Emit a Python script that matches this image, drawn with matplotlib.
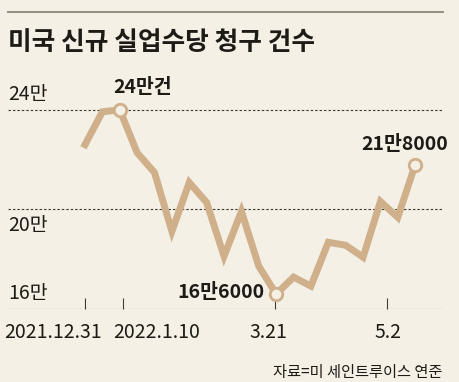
import numpy as np
import matplotlib
matplotlib.use('Agg')
import matplotlib.pyplot as plt
from matplotlib.transforms import blended_transform_factory

# 데이터 (주간 신규 실업수당 청구 건수)
claims = [226000, 239200, 240000, 222800, 214800, 191200, 210800, 202800,
          181200, 199200, 177200, 166000, 172800, 169200, 186800, 185600,
          180800, 203200, 196800, 218000]
weeks = np.arange(len(claims))

tick_pos = [0, 2.2, 10.95, 17.4]
tick_labels = ['2021.12.31', '2022.1.10', '3.21', '5.2']
label_pos = [-1.85, 4.15, 10.55, 17.45]

y_ticks = [160000, 200000, 240000]
y_labels = ['16만', '20만', '24만']

marked = {2: '24만건', 11: '16만6000', 19: '21만8000'}

BG = '#f4f0e6'
LINE = '#cfb08a'
INK = '#1e1a16'
GRID = '#3e3a35'
plt.rcParams['font.family'] = ['Noto Sans CJK KR', 'DejaVu Sans']

fig = plt.figure(figsize=(4.6, 3.82), dpi=100, facecolor=BG)

# 제목 + 상단 선
fig.add_artist(plt.Line2D([8/460, 443/460], [1 - 12/382, 1 - 12/382],
                          color='#8a8778', lw=1.3))
fig.text(8/460, 1 - 42/382, '미국 신규 실업수당 청구 건수', fontsize=18.5,
         fontweight='bold', color=INK, va='center', ha='left')

ax = fig.add_axes([8/460, (382 - 309)/382, 435/460, (309 - 70)/382])
ax.set_facecolor(BG)
ax.set_xlim(-4.43, 20.6)
ax.set_ylim(160000, 256000)
for s in ax.spines.values():
    s.set_visible(False)

for yv in y_ticks:
    ax.axhline(yv, color=GRID, lw=0.8, ls=(0, (2.2, 1.8)), zorder=1)

ax.set_yticks([])
ax.set_xticks(tick_pos)
ax.set_xticklabels([])
ax.tick_params(axis='x', direction='in', length=8, width=0.8, color=GRID)

# y 라벨
for yv, lab in zip(y_ticks, y_labels):
    off = -6 if yv == 200000 else 5
    ax.annotate(lab, (-4.43, yv), xytext=(0, off), textcoords='offset pixels',
                ha='left', va='top' if off < 0 else 'bottom', fontsize=14,
                color=INK, fontweight='light')

# x 라벨
trans = blended_transform_factory(ax.transData, ax.transAxes)
for xp, lab in zip(label_pos, tick_labels):
    ax.annotate(lab, (xp, 0), xycoords=trans, xytext=(0, -23),
                textcoords='offset pixels', ha='center', va='center',
                fontsize=14, color=INK, fontweight='light')

ax.plot(weeks, claims, color=LINE, lw=5, solid_joinstyle='miter', zorder=3)

for i, lab in marked.items():
    ax.plot(weeks[i], claims[i], 'o', ms=9, mfc=BG, mec=LINE, mew=2, zorder=4)
    if i == 11:
        ax.annotate(lab, (weeks[i], claims[i]), xytext=(-12, 2),
                    textcoords='offset pixels', ha='right', va='center',
                    fontsize=14, fontweight='bold', color=INK)
    elif i == 2:
        ax.annotate(lab, (weeks[i], claims[i]), xytext=(23, 22),
                    textcoords='offset pixels', ha='center', va='center',
                    fontsize=14, fontweight='bold', color=INK)
    else:
        ax.annotate(lab, (weeks[i], claims[i]), xytext=(-11, 20),
                    textcoords='offset pixels', ha='center', va='center',
                    fontsize=14, fontweight='bold', color=INK)

fig.text(442/460, 1 - 372/382, '자료=미 세인트루이스 연준', fontsize=11,
         color=INK, ha='right', va='center')

fig.savefig('out.png', dpi=100, facecolor=BG)
